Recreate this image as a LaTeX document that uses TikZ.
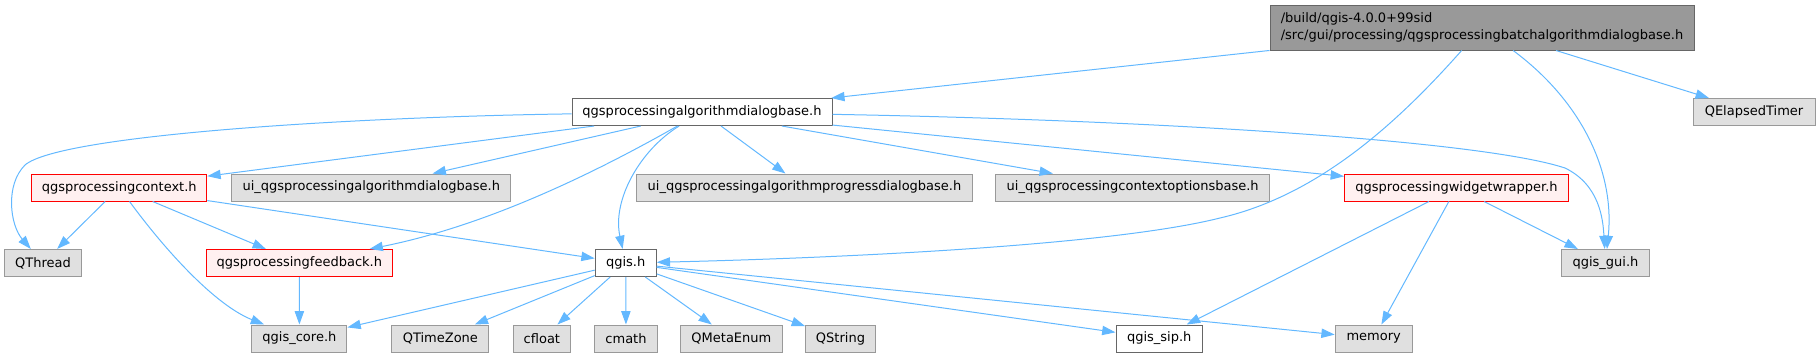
\documentclass[tikz,border=0pt]{standalone}
\usepackage{fontspec}
\setmainfont{DejaVu Sans}
\usetikzlibrary{arrows.meta}
\definecolor{edgec}{HTML}{63B8FF}
\definecolor{grayfill}{HTML}{E0E0E0}
\definecolor{grayline}{HTML}{999999}
\definecolor{darkline}{HTML}{666666}
\definecolor{redfill}{HTML}{FFF0F0}
\definecolor{redline}{HTML}{FF0000}
\definecolor{topfill}{HTML}{999999}
\tikzset{
  base/.style={draw, line width=0.75pt, inner sep=0pt, minimum height=27*0.75pt, anchor=center},
  bw/.style={minimum width=#1*0.75pt},
  sysbox/.style={base, fill=grayfill, draw=grayline},
  filebox/.style={base, fill=white, draw=darkline},
  redbox/.style={base, fill=redfill, draw=redline},
  topbox/.style={base, fill=topfill, draw=darkline, align=left, minimum height=45*0.75pt},
  edge/.style={draw=edgec, line width=0.75pt, -{Triangle[length=10pt,width=7pt]}},
}
\begin{document}
\begin{tikzpicture}[x=0.75pt, y=-0.75pt, font=\fontsize{9.75pt}{12.75pt}\selectfont]
\useasboundingbox (0,0) rectangle (1817,358);

\node[topbox, bw=424] (top) at (1482,27.5) {/build/qgis-4.0.0+99sid\\/src/gui/processing/qgsprocessingbatchalgorithmdialogbase.h};

\node[filebox, bw=260] (algd) at (702,112) {qgsprocessingalgorithmdialogbase.h};
\node[sysbox, bw=122] (elapsed) at (1754,112) {QElapsedTimer};

\node[redbox, bw=175] (ctx) at (119.3,187.5) {qgsprocessingcontext.h};
\node[sysbox, bw=279] (uialgd) at (371.3,187.5) {ui\_qgsprocessingalgorithmdialogbase.h};
\node[sysbox, bw=335.5] (uiprog) at (804.5,187.5) {ui\_qgsprocessingalgorithmprogressdialogbase.h};
\node[sysbox, bw=274] (uictx) at (1132.7,187.5) {ui\_qgsprocessingcontextoptionsbase.h};
\node[redbox, bw=224] (widget) at (1456.5,187.5) {qgsprocessingwidgetwrapper.h};

\node[sysbox, bw=77] (qthread) at (43,263) {QThread};
\node[redbox, bw=186.5] (feedback) at (299.3,263) {qgsprocessingfeedback.h};
\node[filebox, bw=61] (qgis) at (625.7,263) {qgis.h};
\node[sysbox, bw=88.5] (qgui) at (1605.5,263) {qgis\_gui.h};

\node[sysbox, bw=95] (qcore) at (299.4,338.5) {qgis\_core.h};
\node[sysbox, bw=97] (qtz) at (440.4,338.5) {QTimeZone};
\node[sysbox, bw=57.7] (cfloat) at (541.9,338.5) {cfloat};
\node[sysbox, bw=63] (cmath) at (626,338.5) {cmath};
\node[sysbox, bw=101.6] (qme) at (731.4,338.5) {QMetaEnum};
\node[sysbox, bw=70] (qstr) at (840.5,338.5) {QString};
\node[filebox, bw=86.4] (qsip) at (1159.2,338.5) {qgis\_sip.h};
\node[sysbox, bw=77] (mem) at (1373.7,338.5) {memory};

% edges from top
\draw[edge] (top) -- (algd);
\draw[edge] (top) .. controls (1400,120) and (1320,195) .. (1220,218) .. controls (1100,248) and (800,259) .. (qgis);
\draw[edge] (top) .. controls (1580,100) and (1615,170) .. (qgui);
\draw[edge] (top) -- (elapsed);

% edges from algd
\draw[edge] (algd) .. controls (350,117) and (60,135) .. (25,165) .. controls (5,185) and (10,225) .. (qthread);
\draw[edge] (algd) -- (ctx);
\draw[edge] (algd) -- (uialgd);
\draw[edge] (algd) .. controls (600,170) and (490,225) .. (feedback);
\draw[edge] (algd) .. controls (640,150) and (612,200) .. (qgis);
\draw[edge] (algd) -- (uiprog);
\draw[edge] (algd) -- (uictx);
\draw[edge] (algd) -- (widget);
\draw[edge] (algd) .. controls (1150,120) and (1480,140) .. (1565,168) .. controls (1600,185) and (1603,220) .. (qgui);

% edges from context
\draw[edge] (ctx) -- (qthread);
\draw[edge] (ctx) .. controls (165,250) and (215,305) .. (qcore);
\draw[edge] (ctx) -- (feedback);
\draw[edge] (ctx) -- (qgis);

% feedback
\draw[edge] (feedback) -- (qcore);

% qgis.h
\draw[edge] (qgis) -- (qcore);
\draw[edge] (qgis) -- (qtz);
\draw[edge] (qgis) -- (cfloat);
\draw[edge] (qgis) -- (cmath);
\draw[edge] (qgis) -- (qme);
\draw[edge] (qgis) -- (qstr);
\draw[edge] (qgis) -- (qsip);
\draw[edge] (qgis) -- (mem);

% widget wrapper
\draw[edge] (widget) -- (qsip);
\draw[edge] (widget) -- (mem);
\draw[edge] (widget) -- (qgui);
\end{tikzpicture}
\end{document}
